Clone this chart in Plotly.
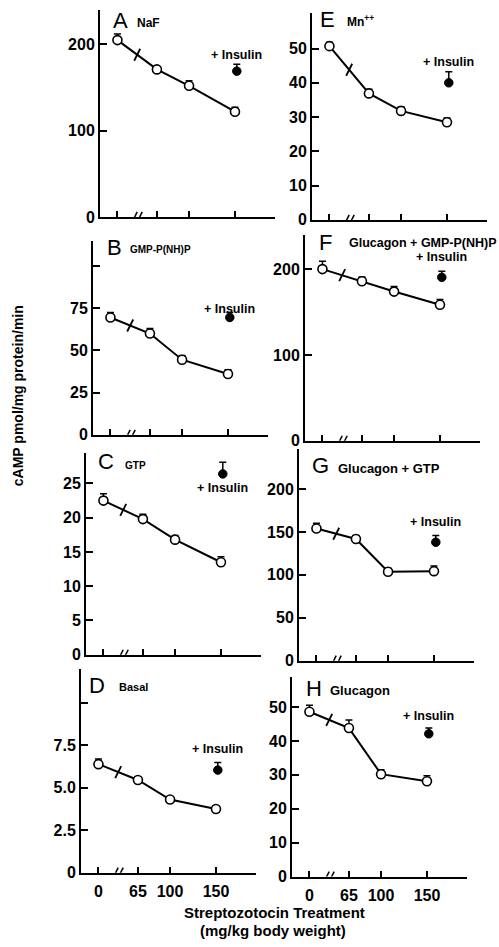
import plotly.graph_objects as go

FIG_W, FIG_H = 499, 947
FONT = "Liberation Sans, Arial, Helvetica, sans-serif"

# ---------------- data ----------------
# streptozotocin dose groups (mg/kg); dose 0 sits left of the axis break
dose_labels = ["0", "65", "100", "150"]
dose_pos = [22, 65, 100, 150]
insulin_pos = 152

# A  NaF
naf = [205, 171, 152, 122]
naf_err = [7, 3, 6, 5]
naf_ins, naf_ins_err = 169, 8
# B  GMP-P(NH)P
gmp = [69.5, 60, 44.5, 36]
gmp_err = [3, 3, 2.5, 2.5]
gmp_ins, gmp_ins_err = 69.5, 3
# C  GTP
gtp = [22.5, 19.8, 16.8, 13.5]
gtp_err = [1.0, 0.7, 0.6, 0.8]
gtp_ins, gtp_ins_err = 26.4, 1.7
# D  Basal
basal = [6.38, 5.45, 4.3, 3.74]
basal_err = [0.3, 0.15, 0.1, 0.13]
basal_ins, basal_ins_err = 6.03, 0.45
# E  Mn++
mn = [50.7, 36.9, 31.8, 28.5]
mn_err = [1.1, 1.2, 1.2, 1.2]
mn_ins, mn_ins_err = 40.0, 3.2
# F  Glucagon + GMP-P(NH)P
glu_gmp = [200, 185.8, 173.8, 158.5]
glu_gmp_err = [9, 5, 6, 6]
glu_gmp_ins, glu_gmp_ins_err = 190.4, 7
# G  Glucagon + GTP
glu_gtp = [154, 141.8, 103.6, 104.3]
glu_gtp_err = [6, 4, 4, 6]
glu_gtp_ins, glu_gtp_ins_err = 138, 7.7
# H  Glucagon
glu = [48.6, 43.8, 30.2, 28.1]
glu_err = [1.9, 2.4, 1.3, 1.6]
glu_ins, glu_ins_err = 42.1, 1.7

# y tick values / labels per panel (unlabeled ticks listed separately)
a_ticks, a_text, a_blank = [0, 100, 200], ["0", "100", "200"], []
b_ticks, b_text, b_blank = [0, 25, 50, 75], ["0", "25", "50", "75"], [100]
c_ticks, c_text, c_blank = [0, 5, 10, 15, 20, 25], ["0", "5", "10", "15", "20", "25"], []
d_ticks, d_text, d_blank = [0, 2.5, 5, 7.5], ["0", "2.5", "5.0", "7.5"], [10]
e_ticks, e_text, e_blank = [0, 10, 20, 30, 40, 50], ["0", "10", "20", "30", "40", "50"], []
f_ticks, f_text, f_blank = [0, 100, 200], ["0", "100", "200"], []
g_ticks, g_text, g_blank = [0, 50, 100, 150, 200], ["0", "50", "100", "150", "200"], []
h_ticks, h_text, h_blank = [0, 10, 20, 30, 40, 50], ["0", "10", "20", "30", "40", "50"], []

# ---------------- panel layout (pixels) ----------------
AX_W = 175
panels = [
    dict(letter="A", title="NaF", v=naf, e=naf_err, iv=naf_ins, ie=naf_ins_err,
         tv=a_ticks, tt=a_text, tb=a_blank, yr=[0, 240], left=100, top=10, bot=219,
         lab=(111, 21), sub=(135, 23), sub_size=12, ins_dy=-16, bottom=False),
    dict(letter="B", title="GMP-P(NH)P", v=gmp, e=gmp_err, iv=gmp_ins, ie=gmp_ins_err,
         tv=b_ticks, tt=b_text, tb=b_blank, yr=[0, 115], left=93, top=243, bot=439,
         lab=(105, 250), sub=(128, 252), sub_size=10, ins_dy=-9, bottom=False),
    dict(letter="C", title="GTP", v=gtp, e=gtp_err, iv=gtp_ins, ie=gtp_ins_err,
         tv=c_ticks, tt=c_text, tb=c_blank, yr=[0, 29.5], left=86, top=457, bot=661,
         lab=(96, 466), sub=(123, 470), sub_size=10, ins_dy=14, bottom=False),
    dict(letter="D", title="Basal", v=basal, e=basal_err, iv=basal_ins, ie=basal_ins_err,
         tv=d_ticks, tt=d_text, tb=d_blank, yr=[0, 12], left=81, top=675, bot=881,
         lab=(87, 692), sub=(117, 694), sub_size=11, ins_dy=-21, bottom=True),
    dict(letter="E", title="Mn<sup>++</sup>", v=mn, e=mn_err, iv=mn_ins, ie=mn_ins_err,
         tv=e_ticks, tt=e_text, tb=e_blank, yr=[0, 60.4], left=312, top=13, bot=222,
         lab=(318, 20), sub=(345, 21), sub_size=12, ins_dy=-21, bottom=False),
    dict(letter="F", title="Glucagon + GMP-P(NH)P", v=glu_gmp, e=glu_gmp_err, iv=glu_gmp_ins,
         ie=glu_gmp_ins_err, tv=f_ticks, tt=f_text, tb=f_blank, yr=[0, 240], left=305,
         top=237, bot=445, lab=(317, 245), sub=(347, 245), sub_size=12.5, ins_dy=-20,
         bottom=False),
    dict(letter="G", title="Glucagon + GTP", v=glu_gtp, e=glu_gtp_err, iv=glu_gtp_ins,
         ie=glu_gtp_ins_err, tv=g_ticks, tt=g_text, tb=g_blank, yr=[0, 247], left=299,
         top=453, bot=667, lab=(310, 470), sub=(336, 473), sub_size=13, ins_dy=-20,
         bottom=False),
    dict(letter="H", title="Glucagon", v=glu, e=glu_err, iv=glu_ins, ie=glu_ins_err,
         tv=h_ticks, tt=h_text, tb=h_blank, yr=[0, 59], left=292, top=683, bot=885,
         lab=(304, 695), sub=(328, 697), sub_size=13, ins_dy=-18, bottom=True),
]

X_RANGE = [3, 193.6]


def px(x):
    return x / FIG_W


def py(y):
    return 1 - y / FIG_H


fig = go.Figure()
annotations = []
shapes = []
layout = {}

for i, p in enumerate(panels, start=1):
    sfx = "" if i == 1 else str(i)
    xr, yr = "x" + sfx, "y" + sfx

    # diabetic series (open circles, line)
    fig.add_trace(go.Scatter(
        x=dose_pos, y=p["v"], xaxis=xr, yaxis=yr, mode="lines+markers",
        line=dict(color="black", width=2),
        marker=dict(symbol="circle", size=9, color="white",
                    line=dict(color="black", width=1.6)),
        error_y=dict(type="data", symmetric=False, array=p["e"],
                     arrayminus=[0] * len(p["e"]), color="black",
                     thickness=1.5, width=3.5),
        showlegend=False, hoverinfo="skip"))
    # + insulin point
    fig.add_trace(go.Scatter(
        x=[insulin_pos], y=[p["iv"]], xaxis=xr, yaxis=yr, mode="markers",
        marker=dict(symbol="circle", size=8.5, color="black",
                    line=dict(color="black", width=1)),
        error_y=dict(type="data", symmetric=False, array=[p["ie"]],
                     arrayminus=[0], color="black", thickness=1.5, width=3.5),
        showlegend=False, hoverinfo="skip"))

    layout["xaxis" + sfx] = dict(
        domain=[px(p["left"]), px(p["left"] + AX_W)], anchor=yr,
        range=X_RANGE, tickvals=dose_pos, ticktext=dose_labels,
        showticklabels=p["bottom"], ticks="inside", ticklen=6, tickwidth=1.5,
        tickcolor="black", showline=True, linecolor="black", linewidth=2,
        showgrid=False, zeroline=False, fixedrange=True, ticklabelstandoff=3,
        tickfont=dict(family=FONT, size=16, color="black", weight="bold"))
    yax = dict(
        domain=[py(p["bot"]), py(p["top"])], anchor=xr,
        range=p["yr"], tickvals=p["tv"], ticktext=p["tt"],
        ticks="inside", ticklen=7, tickwidth=1.5, tickcolor="black",
        showline=True, linecolor="black", linewidth=2,
        showgrid=False, zeroline=False, fixedrange=True,
        tickfont=dict(family=FONT, size=16, color="black", weight="bold"))
    if p["tb"]:
        yax["minor"] = dict(tickmode="array", tickvals=p["tb"], ticks="inside",
                            ticklen=7, tickwidth=1.5, tickcolor="black", showgrid=False)
    layout["yaxis" + sfx] = yax

    # panel letter + condition
    annotations.append(dict(
        text=p["letter"], xref="paper", yref="paper", x=px(p["lab"][0]), y=py(p["lab"][1]),
        xanchor="left", yanchor="middle", showarrow=False,
        font=dict(family=FONT, size=22, color="black")))
    annotations.append(dict(
        text=p["title"], xref="paper", yref="paper", x=px(p["sub"][0]), y=py(p["sub"][1]),
        xanchor="left", yanchor="middle", showarrow=False,
        font=dict(family=FONT, size=p["sub_size"], color="black", weight="bold")))
    # + Insulin label near the filled point
    annotations.append(dict(
        text="+ Insulin", xref=xr, yref=yr, x=insulin_pos, y=p["iv"],
        yshift=-p["ins_dy"], xanchor="center", yanchor="middle", showarrow=False,
        font=dict(family=FONT, size=12.5, color="black", weight="bold")))

    # axis break marks "//" on the x axis
    brk_x = (dose_pos[0] + dose_pos[1]) / 2
    for dx in (-5, 0):
        shapes.append(dict(
            type="line", xref=xr, yref=yr, xsizemode="pixel", ysizemode="pixel",
            xanchor=brk_x, yanchor=0, x0=dx, x1=dx + 5, y0=-5, y1=5,
            line=dict(color="black", width=1.5)))
    # break slash on the data line
    shapes.append(dict(
        type="line", xref=xr, yref=yr, xsizemode="pixel", ysizemode="pixel",
        xanchor=brk_x, yanchor=(p["v"][0] + p["v"][1]) / 2,
        x0=-3, x1=3, y0=-6, y1=6, line=dict(color="black", width=1.8)))

# axis titles
annotations.append(dict(
    text="cAMP pmol/mg protein/min", xref="paper", yref="paper",
    x=px(18), y=py(400), textangle=-90, showarrow=False,
    xanchor="center", yanchor="middle",
    font=dict(family=FONT, size=14, color="black", weight="bold")))
annotations.append(dict(
    text="Streptozotocin Treatment", xref="paper", yref="paper",
    x=px(274), y=py(921), showarrow=False, xanchor="center", yanchor="middle",
    font=dict(family=FONT, size=15, color="black", weight="bold")))
annotations.append(dict(
    text="(mg/kg body weight)", xref="paper", yref="paper",
    x=px(273), y=py(939), showarrow=False, xanchor="center", yanchor="middle",
    font=dict(family=FONT, size=15, color="black", weight="bold")))

fig.update_layout(
    width=FIG_W, height=FIG_H,
    margin=dict(l=0, r=0, t=0, b=0),
    paper_bgcolor="white", plot_bgcolor="white",
    annotations=annotations, shapes=shapes,
    **layout)

fig.write_html("out.html", config={"displayModeBar": False})
